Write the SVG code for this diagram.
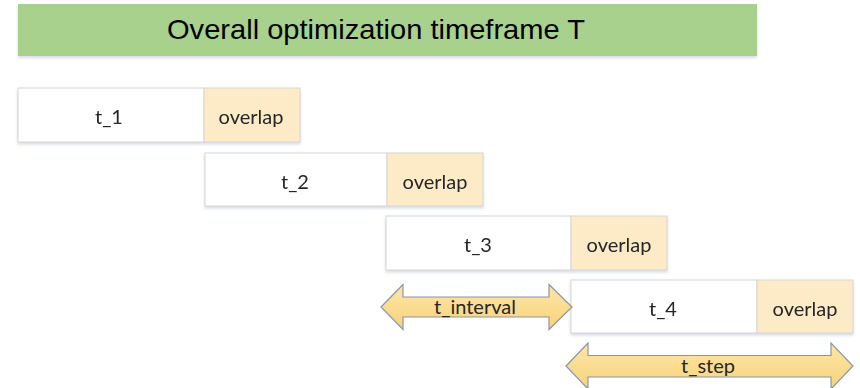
<svg xmlns="http://www.w3.org/2000/svg" width="860" height="388" viewBox="0 0 860 388">
<defs>
<filter id="sh" x="-5%" y="-10%" width="110%" height="130%">
<feDropShadow dx="0" dy="2" stdDeviation="1.5" flood-color="#8a9bb8" flood-opacity="0.35"/>
</filter>
<linearGradient id="ag" x1="0" y1="0" x2="0" y2="1">
<stop offset="0" stop-color="#fde6a8"/>
<stop offset="1" stop-color="#f8d27a"/>
</linearGradient>
</defs>
<style>
.main{fill:#ffffff;stroke:#d6d6d6;stroke-width:1}
.ov{fill:#fdebc8;stroke:#d6d6d6;stroke-width:1}
.lbl{font-family:Lato,"Liberation Sans",sans-serif;font-size:20px;fill:#262626;text-anchor:middle}
.arr{fill:url(#ag);stroke:#8a96a8;stroke-width:1.2;stroke-linejoin:miter}
.title{font-family:"Liberation Sans",Arial,sans-serif;font-size:28px;fill:#000;text-anchor:middle}
</style>
<g id="banner">
<rect x="18" y="4" width="739" height="52" fill="#a9d18e" filter="url(#sh)"/>
<text class="title" x="376" y="39" textLength="418" lengthAdjust="spacingAndGlyphs">Overall optimization timeframe T</text>
</g>
<g id="t1" filter="url(#sh)">
<rect class="main" x="18" y="88" width="186" height="54"/>
<rect class="ov" x="204" y="88" width="96" height="54"/>
<text class="lbl" x="109" y="124">t_1</text>
<text class="lbl" x="251" y="124">overlap</text>
</g>
<g id="t2" filter="url(#sh)">
<rect class="main" x="205" y="153" width="182" height="53"/>
<rect class="ov" x="387" y="153" width="96" height="53"/>
<text class="lbl" x="295" y="189">t_2</text>
<text class="lbl" x="435" y="189">overlap</text>
</g>
<g id="t3" filter="url(#sh)">
<rect class="main" x="386" y="216" width="185" height="54"/>
<rect class="ov" x="571" y="216" width="96" height="54"/>
<text class="lbl" x="478" y="252">t_3</text>
<text class="lbl" x="619" y="252">overlap</text>
</g>
<g id="t4" filter="url(#sh)">
<rect class="main" x="571" y="280" width="186" height="53"/>
<rect class="ov" x="757" y="280" width="96" height="53"/>
<text class="lbl" x="663" y="316">t_4</text>
<text class="lbl" x="805" y="316">overlap</text>
</g>
<g id="connectors">
<g id="t_interval">
<path class="arr" d="M381,307 L403,284.5 L403,297 L549,297 L549,284.5 L572,307 L549,329.5 L549,317 L403,317 L403,329.5 Z"/>
<text class="lbl" x="475" y="314">t_interval</text>
</g>
<g id="t_step">
<path class="arr" d="M566,366 L588,343 L588,355.5 L831,355.5 L831,343 L853,366 L831,389 L831,377 L588,377 L588,389 Z"/>
<text class="lbl" x="708" y="373">t_step</text>
</g>
</g>
</svg>
